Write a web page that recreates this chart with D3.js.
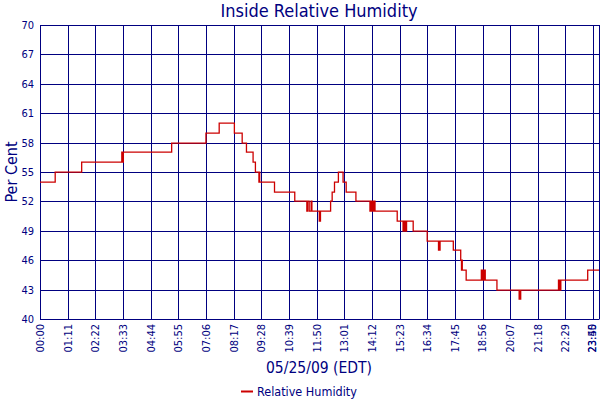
<!DOCTYPE html>
<html><head><meta charset="utf-8">
<script src="https://cdn.jsdelivr.net/npm/d3@7"></script>
<style>
html,body{margin:0;padding:0;background:#fff;}
svg{display:block;font-family:"DejaVu Sans Condensed","DejaVu Sans",sans-serif;}
</style></head>
<body>
<svg id="chart" width="600" height="400"></svg>
<script>
const title = "Inside Relative Humidity";
const yTitle = "Per Cent";
const xTitle = "05/25/09 (EDT)";
const seriesName = "Relative Humidity";
const yTicks = [40, 43, 46, 49, 52, 55, 58, 61, 64, 67, 70];
const xTickLabels = ["00:00","01:11","02:22","03:33","04:44","05:55","07:06","08:17","09:28","10:39","11:50","13:01","14:12","15:23","16:34","17:45","18:56","20:07","21:18","22:29","23:40","23:55"];
const times = ["00:00","00:39","01:47","03:30","03:32","03:34","05:38","07:06","07:40","08:19","08:39","08:50","09:07","09:13","09:22","09:23","09:24","10:02","10:54","11:25","11:27","11:31","11:36","11:38","11:57","12:00","12:26","12:30","12:36","12:46","12:58","13:06","13:31","14:07","14:09","14:11","14:13","14:16","14:18","14:20","14:22","15:17","15:32","15:34","15:36","15:38","15:40","15:41","15:58","16:34","17:03","17:04","17:05","17:07","17:41","18:00","18:02","18:03","18:04","18:14","18:53","18:54","18:56","18:57","19:00","19:01","19:02","19:03","19:33","20:30","20:31","20:32","20:34","22:11","22:12","22:14","22:15","22:17","23:26","23:55"];
const values = [54,55,56,57,56,57,58,59,60,59,58,57,56,55,54,55,54,53,52,51,52,51,52,51,50,51,52,53,54,55,54,53,52,51,52,51,52,51,52,51,51,50,49,50,49,50,49,50,49,48,47,48,47,48,47,46,45,46,45,44,45,44,45,44,45,44,45,44,43,42,43,42,43,44,43,44,43,44,45,45];

const toMin = s => { const [h, m] = s.split(":").map(Number); return h * 60 + m; };
const data = times.map((t, i) => ({ t: toMin(t), v: values[i] }));

const navy = "#000080", red = "#cc0000";
const svg = d3.select("#chart");
const L = 40, R = 599, T = 25, B = 319;
const x = d3.scaleLinear().domain([0, toMin(xTickLabels[xTickLabels.length - 1])]).range([L, R]);
const y = d3.scaleLinear().domain([40, 70]).range([B, T]);

// grid
const xt = xTickLabels.map(toMin);
svg.append("g").selectAll("line").data(xt).join("line")
  .attr("x1", d => Math.round(x(d)) + 0.5).attr("x2", d => Math.round(x(d)) + 0.5)
  .attr("y1", T).attr("y2", B).attr("stroke", navy).attr("stroke-width", 1);
svg.append("g").selectAll("line").data(yTicks).join("line")
  .attr("x1", L).attr("x2", R + 0.5)
  .attr("y1", d => Math.round(y(d)) + 0.5).attr("y2", d => Math.round(y(d)) + 0.5)
  .attr("stroke", navy).attr("stroke-width", 1);

// line
const line = d3.line().x(d => x(d.t)).y(d => Math.round(y(d.v)) + 0.1).curve(d3.curveStepAfter);
svg.append("path").datum(data).attr("d", line)
  .attr("fill", "none").attr("stroke", red).attr("stroke-width", 1.3);

// y axis labels
svg.append("g").selectAll("text").data(yTicks).join("text")
  .attr("x", 34).attr("y", d => y(d)).attr("dy", "0.36em")
  .attr("text-anchor", "end").attr("fill", navy).attr("font-size", 11)
  .text(d => d);

// x axis labels
svg.append("g").selectAll("text").data(xTickLabels).join("text")
  .attr("transform", d => `translate(${Math.min(x(toMin(d)), 592)},324) rotate(-90)`)
  .attr("dy", "0.36em").attr("text-anchor", "end")
  .attr("fill", navy).attr("font-size", 11).text(d => d);

// titles
svg.append("text").attr("x", 319).attr("y", 17).attr("text-anchor", "middle")
  .attr("fill", navy).attr("font-size", 18).text(title);
svg.append("text").attr("transform", "translate(17,172) rotate(-90)")
  .attr("text-anchor", "middle").attr("fill", navy).attr("font-size", 16).text(yTitle);
svg.append("text").attr("x", 319).attr("y", 373).attr("text-anchor", "middle")
  .attr("fill", navy).attr("font-size", 15.5).text(xTitle);

// legend
svg.append("line").attr("x1", 241).attr("x2", 253).attr("y1", 391.5).attr("y2", 391.5)
  .attr("stroke", red).attr("stroke-width", 2);
svg.append("text").attr("x", 257).attr("y", 396).attr("fill", navy)
  .attr("font-size", 12.5).text(seriesName);
</script>
</body></html>
